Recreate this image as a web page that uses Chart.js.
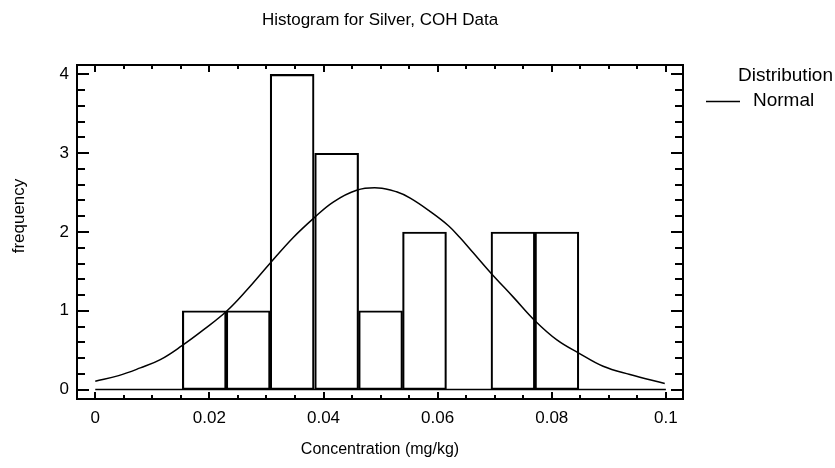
<!DOCTYPE html>
<html>
<head>
<meta charset="utf-8">
<script src="https://cdn.jsdelivr.net/npm/chart.js@4.4.1/dist/chart.umd.min.js"></script>
<style>
  body { margin: 0; background: #fff; }
</style>
</head>
<body>
<canvas id="myChart" width="835" height="468"></canvas>
<script>
// histogram bins (centres, mg/kg) and counts
const binCenters = [0.0191, 0.0268, 0.0345, 0.0423, 0.0500, 0.0577, 0.0655, 0.0732, 0.0809];
const binCounts = [1, 1, 4, 3, 1, 2, 0, 2, 2];

// fitted normal curve
const curveX = [0, 0.0041, 0.0079, 0.0114, 0.0152, 0.019, 0.0231, 0.0266, 0.0306, 0.0347,
  0.0382, 0.0417, 0.0458, 0.0496, 0.0528, 0.0552, 0.0587, 0.0619, 0.0639, 0.0662,
  0.0692, 0.0733, 0.0771, 0.0809, 0.0848, 0.089, 0.0937, 0.0998];
const curveY = [0.105, 0.177, 0.275, 0.38, 0.557, 0.76, 1.0, 1.266, 1.6, 1.93,
  2.17, 2.38, 2.53, 2.56, 2.51, 2.43, 2.26, 2.08, 1.93, 1.74,
  1.49, 1.17, 0.87, 0.63, 0.46, 0.295, 0.19, 0.076];

// baseline drawn under the histogram
const baselineX = [0, 0.1];

const xTicks = [0, 0.02, 0.04, 0.06, 0.08, 0.1];
const yTicks = [0, 1, 2, 3, 4];

const FONT = "'Liberation Sans', Arial, sans-serif";
const FS = 17;
const LEGEND_FS = 19;

const framePlugin = {
  id: "frame",
  afterDraw(chart) {
    const ctx = chart.ctx;
    const a = chart.chartArea;
    const xs = chart.scales.x;
    const ys = chart.scales.y;
    ctx.save();
    ctx.strokeStyle = "#000";
    ctx.lineWidth = 2;
    ctx.strokeRect(a.left, a.top, a.right - a.left, a.bottom - a.top);

    // x ticks, top and bottom, pointing inward
    for (let i = 0; i <= 20; i++) {
      const v = i * 0.005;
      const px = Math.round(xs.getPixelForValue(v));
      const len = i % 4 === 0 ? 7 : 4;
      ctx.beginPath();
      ctx.moveTo(px, a.bottom);
      ctx.lineTo(px, a.bottom - len);
      ctx.moveTo(px, a.top);
      ctx.lineTo(px, a.top + len);
      ctx.stroke();
    }
    // y ticks, left and right
    for (let i = 0; i <= 20; i++) {
      const v = i * 0.2;
      const py = Math.round(ys.getPixelForValue(v));
      const len = i % 5 === 0 ? 12 : 8;
      ctx.beginPath();
      ctx.moveTo(a.left, py);
      ctx.lineTo(a.left + len, py);
      ctx.moveTo(a.right, py);
      ctx.lineTo(a.right - len, py);
      ctx.stroke();
    }

    ctx.fillStyle = "#000";
    ctx.font = FS + "px " + FONT;
    ctx.textBaseline = "middle";

    // title
    ctx.textAlign = "center";
    ctx.fillText("Histogram for Silver, COH Data", (a.left + a.right) / 2, 20);

    // y axis title
    ctx.save();
    ctx.translate(19, 216);
    ctx.rotate(-Math.PI / 2);
    ctx.fillText("frequency", 0, 0);
    ctx.restore();

    // legend
    ctx.font = LEGEND_FS + "px " + FONT;
    ctx.textAlign = "right";
    ctx.fillText("Distribution", 833, 76);
    ctx.textAlign = "left";
    ctx.fillText("Normal", 753, 101);
    ctx.lineWidth = 1.5;
    ctx.beginPath();
    ctx.moveTo(706, 101.5);
    ctx.lineTo(740, 101.5);
    ctx.stroke();
    ctx.restore();
  },
};

const ctx = document.getElementById("myChart").getContext("2d");
const myChart = new Chart(ctx, {
  type: "bar",
  data: {
    datasets: [
      {
        type: "bar",
        label: "frequency",
        data: binCenters.map((x, i) => ({ x: x, y: binCounts[i] })),
        backgroundColor: "rgba(0,0,0,0)",
        borderColor: "#000",
        borderWidth: 1.5,
        borderSkipped: false,
        barPercentage: 1,
        categoryPercentage: 1,
        grouped: false,
      },
      {
        type: "line",
        label: "Normal",
        data: curveX.map((x, i) => ({ x: x, y: curveY[i] })),
        borderColor: "#000",
        borderWidth: 1.5,
        pointRadius: 0,
        tension: 0.4,
        fill: false,
      },
      {
        type: "line",
        label: "baseline",
        data: baselineX.map((x) => ({ x: x, y: 0 })),
        borderColor: "#000",
        borderWidth: 1.5,
        pointRadius: 0,
        fill: false,
      },
    ],
  },
  options: {
    responsive: false,
    animation: false,
    layout: { padding: { left: 0, right: 152, top: 65, bottom: 0 } },
    plugins: {
      legend: { display: false },
      title: { display: false },
      tooltip: { enabled: false },
    },
    scales: {
      x: {
        type: "linear",
        min: -0.0032,
        max: 0.103,
        offset: false,
        grid: { display: false, drawTicks: false },
        border: { display: false },
        afterFit: (scale) => {
          scale.height = 69;
        },
        afterBuildTicks: (scale) => {
          scale.ticks = xTicks.map((v) => ({ value: v }));
        },
        ticks: {
          color: "#000",
          font: { family: FONT, size: FS },
          padding: 9,
          maxRotation: 0,
          callback: (v) => String(v),
        },
        title: {
          display: true,
          text: "Concentration (mg/kg)",
          color: "#000",
          font: { family: FONT, size: 16 },
          padding: { top: 4, bottom: 9 },
        },
      },
      y: {
        min: -0.12,
        max: 4.12,
        grid: { display: false, drawTicks: false },
        border: { display: false },
        afterFit: (scale) => {
          scale.width = 77;
        },
        afterBuildTicks: (scale) => {
          scale.ticks = yTicks.map((v) => ({ value: v }));
        },
        ticks: {
          color: "#000",
          font: { family: FONT, size: FS },
          padding: 8,
          callback: (v) => String(v),
        },
      },
    },
  },
  plugins: [framePlugin],
});
</script>
</body>
</html>
